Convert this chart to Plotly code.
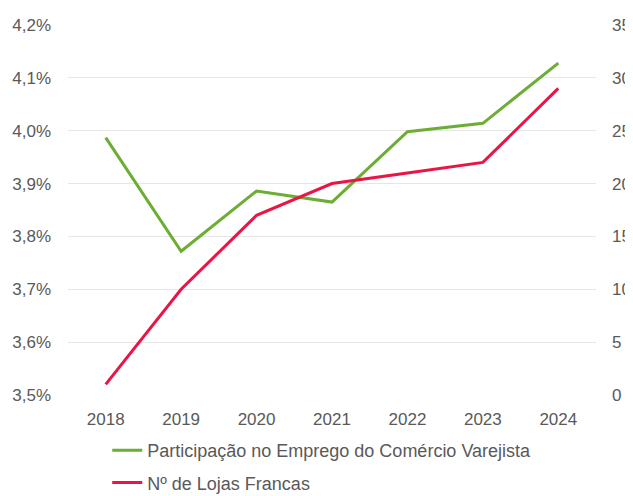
import plotly.graph_objects as go

years = ["2018", "2019", "2020", "2021", "2022", "2023", "2024"]
participacao = [3.987, 3.772, 3.886, 3.865, 3.998, 4.014, 4.128]  # %
lojas = [1, 10, 17, 20, 21, 22, 29]

left_ticks = [3.5, 3.6, 3.7, 3.8, 3.9, 4.0, 4.1, 4.2]
left_labels = ["3,5%", "3,6%", "3,7%", "3,8%", "3,9%", "4,0%", "4,1%", "4,2%"]
right_ticks = [0, 5, 10, 15, 20, 25, 30, 35]

GREEN = "#6CAD34"
RED = "#EA1545"
TXT = "#595959"
FONT = "Liberation Sans"

fig = go.Figure()
fig.add_trace(go.Scatter(x=years, y=participacao, mode="lines",
                         name="Participação no Emprego do Comércio Varejista",
                         legendgroup="a",
                         line=dict(color=GREEN, width=3)))
fig.add_trace(go.Scatter(x=years, y=lojas, mode="lines", yaxis="y2",
                         name="Nº de Lojas Francas", legendgroup="b",
                         line=dict(color=RED, width=3)))

# page body has an 8px margin, so the figure is 8px smaller than the window
fig.update_layout(
    width=625, height=488,
    margin=dict(l=60, r=37, t=17, b=101, autoexpand=False),
    paper_bgcolor="white", plot_bgcolor="white",
    font=dict(family=FONT, size=17, color=TXT),
    xaxis=dict(type="category", range=[-0.5, 6.5], showgrid=False,
               showline=False, ticks="", tickfont=dict(size=17, color=TXT),
               zeroline=False, ticklabelstandoff=12),
    yaxis=dict(range=[3.5, 4.2], tickvals=left_ticks, ticktext=left_labels,
               showgrid=True, gridcolor="#E6E6E6", gridwidth=1,
               zeroline=False, showline=False, ticks="",
               ticklabelstandoff=16, tickfont=dict(size=17, color=TXT)),
    yaxis2=dict(range=[0, 35], tickvals=right_ticks, overlaying="y",
                side="right", showgrid=False, zeroline=False, showline=False,
                ticks="", ticklabelstandoff=15,
                tickfont=dict(size=17, color=TXT)),
    legend=dict(orientation="v", x=0.0743, xanchor="left", y=-0.1,
                yanchor="top", font=dict(size=18, color=TXT),
                traceorder="grouped", tracegroupgap=6,
                bgcolor="rgba(0,0,0,0)"),
    showlegend=True,
)

fig.write_html("out.html")
